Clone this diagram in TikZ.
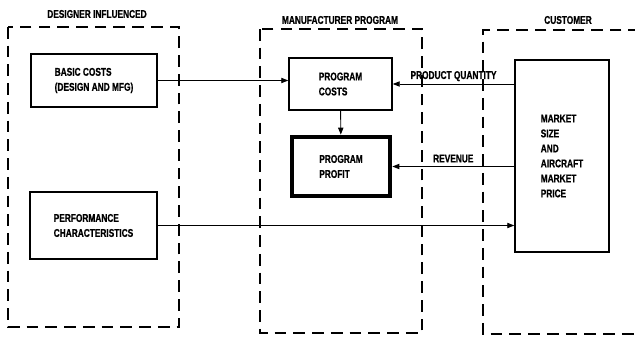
\documentclass[tikz,border=0pt]{standalone}
\usepackage{fontspec}
\newfontfamily\diagfont{Liberation Sans Bold}[FakeStretch=0.74, FakeBold=0.8]
\usetikzlibrary{arrows.meta, positioning}

\tikzset{
  box/.style={draw, line width=1.2pt, rectangle, align=left, inner sep=0pt},
  thickbox/.style={box, line width=3.4pt},
  region/.style={draw, line width=1.1pt, dash pattern=on 10pt off 6pt},
  flow/.style={line width=0.8pt, -{Triangle[length=6pt,width=4.5pt]}},
  title/.style={inner sep=0pt}
}

\begin{document}
\begin{tikzpicture}[x=0.03cm, y=-0.03cm,
    every node/.style={font=\diagfont\fontsize{9.6}{12.8}\selectfont}]
  \useasboundingbox (0,0) rectangle (635,337);
  % regions
  \draw[region] (8,27) rectangle (179,327);
  \draw[region] (260,29) rectangle (422,333);
  \draw[region] (640,30) -- (483,30) -- (483,334) -- (640,334);
  \node[title] (tdes) at (97,14) {DESIGNER INFLUENCED};
  \node[title] (tman) at (340,20) {MANUFACTURER PROGRAM};
  \node[title] (tcus) at (568,20) {CUSTOMER};
  % boxes
  \node[box, minimum width=3.78cm, minimum height=1.59cm] (basic) at (94,80.5)
    {BASIC COSTS\\(DESIGN AND MFG)};
  \node[box, minimum width=3.81cm, minimum height=2.01cm] (perf) at (93.5,225.5)
    {PERFORMANCE\\CHARACTERISTICS};
  \node[box, minimum width=3.09cm, minimum height=1.56cm] (pcost) at (340.5,84)
    {PROGRAM\\COSTS};
  \node[thickbox, minimum width=2.96cm, minimum height=1.79cm] (profit) at (341,166.5)
    {PROGRAM\\PROFIT};
  \node[box, minimum width=2.82cm, minimum height=5.76cm] (market) at (562,156)
    {MARKET\\SIZE\\AND\\AIRCRAFT\\MARKET\\PRICE};
  % flows
  \draw[flow] (basic.east) -- (basic.east -| pcost.west);
  \draw[flow] (pcost) -- (profit);
  \draw[flow] (market.west |- pcost) -- node[above=2pt, inner sep=0pt] {PRODUCT QUANTITY} (pcost.east);
  \draw[flow] (market.west |- profit) -- node[above=3pt, inner sep=0pt] {REVENUE} (profit.east);
  \draw[flow] (perf.east) -- (perf.east -| market.west);
\end{tikzpicture}
\end{document}
